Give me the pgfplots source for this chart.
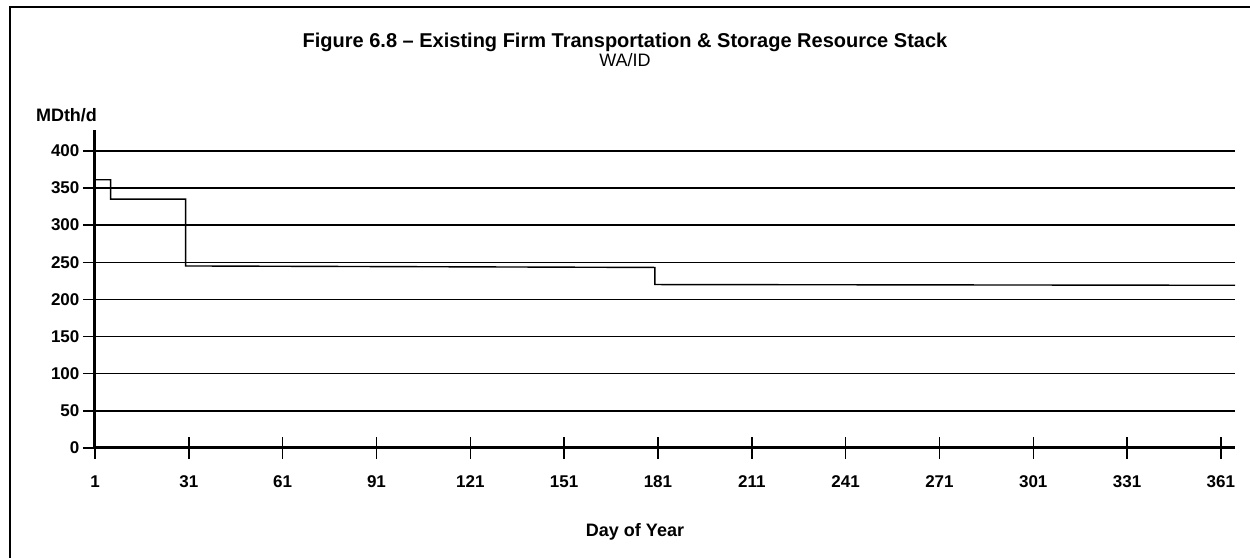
\documentclass[border=0pt]{standalone}
\usepackage{pgfplots}
\pgfplotsset{compat=1.18}
\usepackage{fontspec}
\setmainfont{Liberation Sans}

% daily firm resource, MDth/d (step profile)
\pgfplotstableread{
day  mdth
1    361
6    361
6    335
30   335
30   245
180  243
180  220
365.5 219
}\stackdata

\begin{document}
\begin{tikzpicture}
\useasboundingbox (0,0) rectangle (625pt,279pt);
% frame (left and top edges)
\draw[line width=0.8pt] (5pt,0) -- (5pt,275.5pt) -- (625pt,275.5pt);

\node[font=\bfseries\fontsize{10}{12}\selectfont] at (312.5pt,258pt)
  {Figure 6.8 -- Existing Firm Transportation \& Storage Resource Stack};
\node[font=\fontsize{9}{11}\selectfont] at (312.5pt,249pt) {WA/ID};
\node[font=\bfseries\fontsize{9}{11}\selectfont] at (33.25pt,221.5pt) {MDth/d};
\node[font=\bfseries\fontsize{9}{11}\selectfont] at (317.5pt,13pt) {Day of Year};

\begin{axis}[
   at={(47.5pt,55pt)}, anchor=south west,
   scale only axis,
   width=570pt, height=159pt,
   xmin=1, xmax=365.5,
   ymin=0, ymax=428,
   xtick={1,31,...,361},
   ytick={0,50,...,400},
   axis x line=bottom,
   axis y line=left,
   axis line style={-, line width=1.5pt},
   ymajorgrids,
   grid style={black, line width=0.75pt},
   xtick align=center,
   ytick align=outside,
   xtick style={black, line width=0.75pt, /pgfplots/major tick length=11pt},
   ytick style={black, line width=0.75pt, /pgfplots/major tick length=6pt},
   tick label style={font=\bfseries\fontsize{8.5}{10}\selectfont},
   /pgf/number format/assume math mode=true,
   xticklabel style={yshift=-8pt},
   clip=false
]
\addplot[black, line width=0.7pt] table[x=day, y=mdth] {\stackdata};
\end{axis}
\end{tikzpicture}
\end{document}
